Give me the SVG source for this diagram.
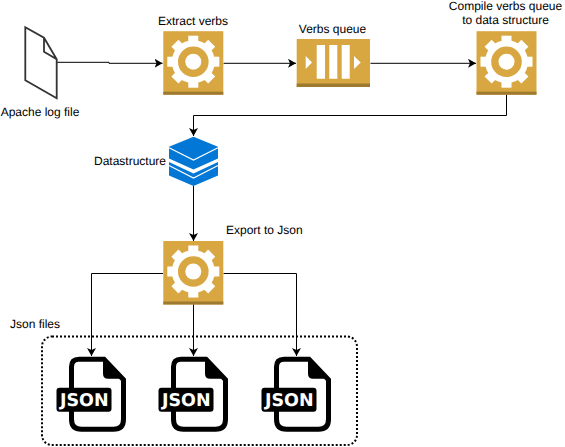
<svg xmlns="http://www.w3.org/2000/svg" xmlns:xlink="http://www.w3.org/1999/xlink" width="565" height="447" viewBox="0 0 565 447">
<style>
text{font-family:"Liberation Sans",Arial,sans-serif;font-size:12px;fill:#000;text-rendering:geometricPrecision}
.m{text-anchor:middle}
.c{fill:none;stroke:#000;stroke-width:1}
.w{fill:#fff}
</style>
<defs>
<marker id="a" markerUnits="userSpaceOnUse" markerWidth="10" markerHeight="10" refX="8" refY="4.5" orient="auto"><path d="M0 0L8 4.5L0 9L2 4.5Z" fill="#000"/></marker>
<g id="gear">
<rect width="60" height="63.5" fill="#d9a741"/>
<rect y="60.5" width="60" height="3" fill="#9d7a30"/>
<g transform="translate(30 30.5)">
<circle r="21.500" class="w"/>
<g class="w"><rect x="-26" y="-5" width="52" height="10"/><rect x="-26" y="-5" width="52" height="10" transform="rotate(45)"/><rect x="-26" y="-5" width="52" height="10" transform="rotate(90)"/><rect x="-26" y="-5" width="52" height="10" transform="rotate(135)"/></g>
<circle r="15.300" fill="#d9a741"/><circle r="8" class="w"/>
</g>
</g>
<g id="json">
<path d="M10 2.500H35L54.500 23V62.500Q54.500 72.500 44.500 72.500H12.500Q2.500 72.500 2.500 62.500V10Q2.500 2.500 10 2.500Z" fill="#fff" stroke="#000" stroke-width="5"/>
<path d="M34 2V17Q34 22 39 22H55Z" fill="#000"/>
<rect x="-12.500" y="31" width="55" height="24" rx="3" fill="#000"/>
<text x="15.300" y="49.500" class="m" style="font-family:'DejaVu Sans',sans-serif;font-weight:bold;font-size:17.500px;fill:#fff">JSON</text>
</g>
</defs>
<g id="connectors">
<path class="c" d="M57 62.300H109V63.300H162.500" marker-end="url(#a)"/>
<path class="c" d="M223.500 63.300H296" marker-end="url(#a)"/>
<path class="c" d="M370.500 63.300H476" marker-end="url(#a)"/>
<path class="c" d="M506.500 94.500V115.500H193.500V136" marker-end="url(#a)"/>
<path class="c" d="M193.500 186V241" marker-end="url(#a)"/>
<path class="c" d="M163 273.500H91.500V356" marker-end="url(#a)"/>
<path class="c" d="M193.500 304V356" marker-end="url(#a)"/>
<path class="c" d="M223.500 273.500H296.500V356" marker-end="url(#a)"/>
</g>
<g id="log-file"><path d="M25.300 27.300L44 37.700L56.700 59.300V98.300L25.300 80.300Z M44 37.700V51.700L56.700 59.300" fill="#fff" stroke="#333" stroke-width="1.800"/><text x="40" y="116" class="m">Apache log file</text></g>
<g id="extract"><use xlink:href="#gear" x="163.300" y="31.200"/><text x="193" y="25" class="m">Extract verbs</text></g>
<g id="queue"><rect x="296.700" y="39" width="73.300" height="48" fill="#d9a741"/><rect x="296.700" y="83.500" width="73.300" height="3.500" fill="#9d7a30"/><path class="w" d="M316.700 45H325V78.700H316.700ZM329.300 45H337.300V78.700H329.300ZM341.700 45H349.700V78.700H341.700ZM305.700 56L312 62.500L305.700 69ZM354 56L360.700 62.500L354 69Z"/><text x="332.500" y="33" class="m">Verbs queue</text></g>
<g id="compile"><use xlink:href="#gear" x="476.500" y="31.200"/><text x="505.500" y="10" class="m">Compile verbs queue</text><text x="505.500" y="24" class="m">to data structure</text></g>
<g id="datastructure">
<path d="M169 146.700L193.500 136.700L218 146.700V158.500L193.500 169.500L169 158.500Z" fill="#0277d6"/>
<path d="M169 162L193.500 173.500L218 162V175.500L193.500 186L169 175.500Z" fill="#0277d6"/>
<path d="M169 147.700L193.500 160L218 147.700M169 165.500L193.500 178L218 165.500" fill="none" stroke="#fff" stroke-width="1.200"/>
<text x="130" y="165" class="m">Datastructure</text>
</g>
<g id="export"><use xlink:href="#gear" x="163.300" y="241"/><text x="226" y="234">Export to Json</text></g>
<g id="json-files"><rect x="42" y="336.500" width="315" height="108.500" rx="10" fill="none" stroke="#000" stroke-width="2" stroke-dasharray="2 2"/><text x="10" y="328">Json files</text></g>
<g id="json1"><use xlink:href="#json" x="69" y="356.700"/></g>
<g id="json2"><use xlink:href="#json" x="171" y="356.700"/></g>
<g id="json3"><use xlink:href="#json" x="274" y="356.700"/></g>
</svg>
